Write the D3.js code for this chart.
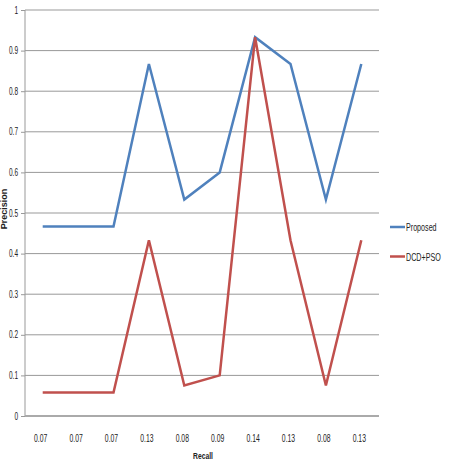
<!DOCTYPE html>
<html><head><meta charset="utf-8">
<script src="https://cdn.jsdelivr.net/npm/d3@7"></script>
<style>body{margin:0;background:#fff}svg{display:block}text{font-family:"Liberation Sans",Arial,sans-serif}</style>
</head><body>
<svg id="c" width="451" height="461"></svg>
<script>
const categories = ["0.07","0.07","0.07","0.13","0.08","0.09","0.14","0.13","0.08","0.13"];
const proposed = [0.467,0.467,0.467,0.867,0.533,0.6,0.933,0.867,0.533,0.867];
const dcdPso = [0.058,0.058,0.058,0.433,0.075,0.1,0.933,0.433,0.075,0.433];
const yTicks = [0,0.1,0.2,0.3,0.4,0.5,0.6,0.7,0.8,0.9,1];
const seriesNames = ["Proposed","DCD+PSO"];
const colors = ["#4F81BD","#C0504D"];

(function(){
const svg = d3.select("#c");
const pL = 25, pR = 379, pT = 10, pB = 416;
const idx = d3.range(categories.length);
const x = d3.scaleBand().domain(idx).range([pL, pR]);
const y = d3.scaleLinear().domain([0,1]).range([pB, pT]);
const sx = 0.62;

svg.append("g").selectAll("line").data(yTicks.filter(d=>d>0)).join("line")
  .attr("x1", pL).attr("x2", pR)
  .attr("y1", d=>y(d)).attr("y2", d=>y(d))
  .attr("stroke", "#999").attr("stroke-width", 1);

const ya = svg.append("g").attr("transform", `translate(${pL},0)`)
  .call(d3.axisLeft(y).tickValues(yTicks).tickSize(4).tickFormat(""));
ya.select(".domain").attr("stroke", "#999").attr("d", `M0,${pT}V${pB}`);
ya.selectAll(".tick line").attr("stroke", "#999");
svg.append("g").selectAll("text").data(yTicks).join("text")
  .attr("transform", d=>`translate(18,${y(d)+3.5}) scale(${sx},1)`)
  .attr("text-anchor","end").attr("font-size", 10.5).attr("fill","#222")
  .text(d=>String(+d.toFixed(1)));

svg.append("line").attr("x1", pL).attr("x2", pR).attr("y1", pB).attr("y2", pB)
  .attr("stroke", "#aaa").attr("stroke-width", 2);
svg.append("g").selectAll("text").data(idx).join("text")
  .attr("transform", d=>`translate(${x(d)+x.bandwidth()/2 - 2},442) scale(${sx},1)`)
  .attr("text-anchor", "middle").attr("font-size", 11).attr("fill", "#222")
  .text(d=>categories[d]);

const line = d3.line().x((d,i)=>x(i)+x.bandwidth()/2).y(d=>y(d));
[proposed, dcdPso].forEach((s,k)=>{
  svg.append("path").datum(s).attr("d", line)
    .attr("fill","none").attr("stroke", colors[k]).attr("stroke-width", 2.5)
    .attr("stroke-linejoin","miter");
});

svg.append("text").attr("transform", `translate(7,209) rotate(-90)`)
  .attr("text-anchor","middle").attr("font-size", 9).attr("font-weight","bold").attr("fill","#222").text("Precision");
svg.append("text").attr("transform", `translate(203,459) scale(0.75,1)`)
  .attr("text-anchor","middle").attr("font-size", 9).attr("font-weight","bold").attr("fill","#222").text("Recall");

const lg = svg.append("g");
seriesNames.forEach((n,k)=>{
  const ly = 227 + k*29.5;
  lg.append("line").attr("x1",390).attr("x2",405).attr("y1",ly).attr("y2",ly)
    .attr("stroke", colors[k]).attr("stroke-width", 2.5);
  lg.append("text").attr("transform", `translate(406,${ly+4}) scale(0.65,1)`)
    .attr("font-size", 11).attr("fill","#222").text(n);
});
})();
</script>
</body></html>
